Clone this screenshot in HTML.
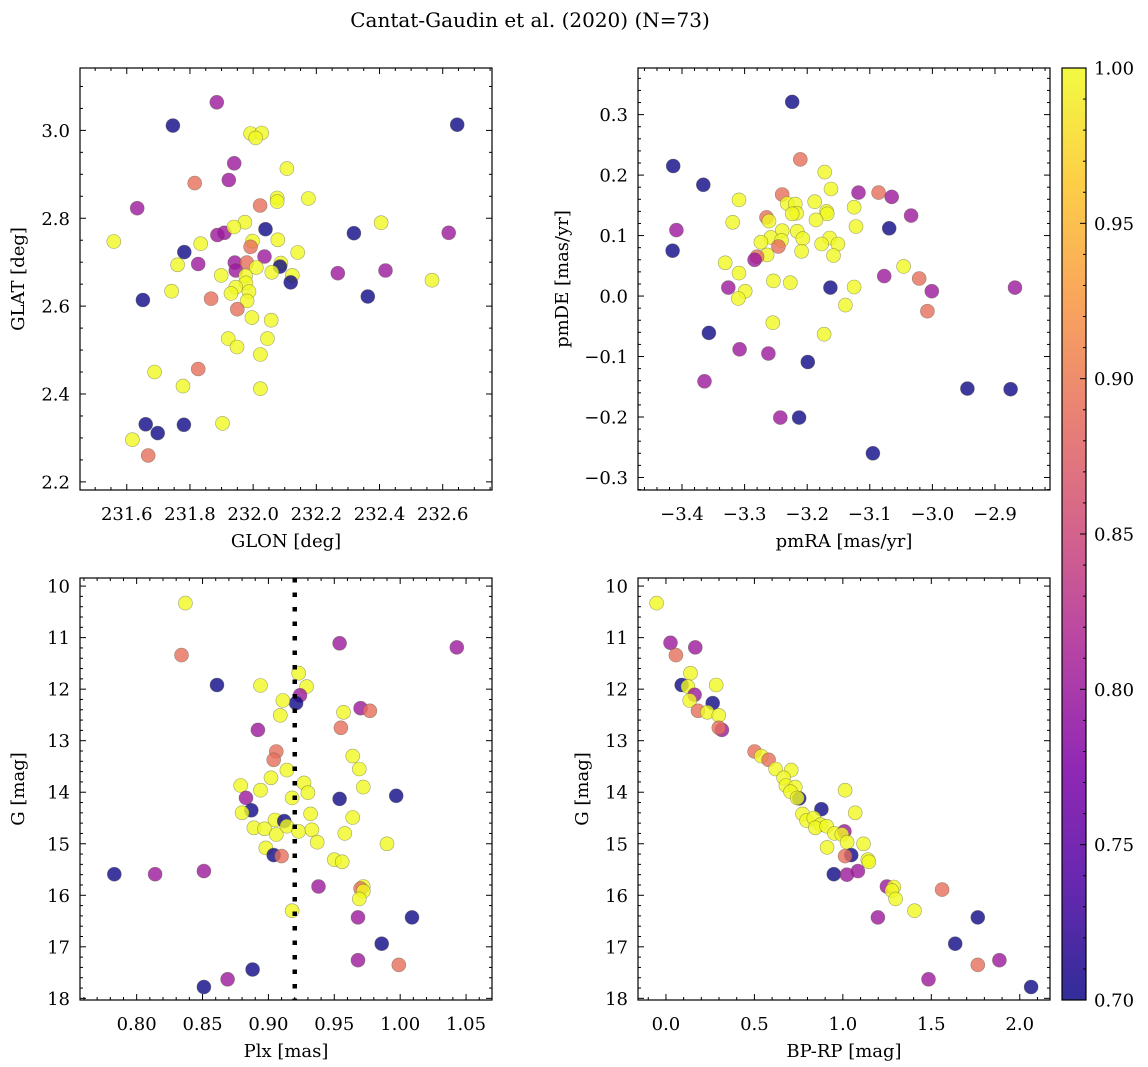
<!DOCTYPE html>
<html><head><meta charset="utf-8">
<style>
html,body{margin:0;padding:0;background:#fff;}
svg{display:block;font-family:"DejaVu Serif","Liberation Serif",serif;}
</style></head>
<body>
<svg id="fig" width="1148" height="1067" viewBox="0 0 1148 1067" xmlns="http://www.w3.org/2000/svg">
<defs>
<linearGradient id="cbgrad" x1="0" y1="1" x2="0" y2="0">
<stop offset="0" stop-color="#0d0887"/><stop offset="0.125" stop-color="#4c02a1"/><stop offset="0.25" stop-color="#7e03a8"/><stop offset="0.375" stop-color="#a92395"/><stop offset="0.5" stop-color="#cc4778"/><stop offset="0.625" stop-color="#e56b5d"/><stop offset="0.75" stop-color="#f89540"/><stop offset="0.875" stop-color="#fdc527"/><stop offset="1" stop-color="#f0f921"/>
</linearGradient>
</defs>
<text x="530" y="27" font-size="20" text-anchor="middle">Cantat-Gaudin et al. (2020) (N=73)</text>
</svg>
<script>
// Panel 1: GLON / GLAT
const p1GLON=[231.885,231.746,232.646,231.992,232.027,232.008,231.940,232.107,231.923,231.815,232.076,232.175,232.076,231.633,232.022,232.405,231.974,231.887,231.909,232.039,231.939,232.319,232.619,231.559,231.834,231.998,231.992,232.078,231.782,232.141,231.761,231.826,231.942,231.980,232.036,232.088,232.085,232.010,231.945,232.059,231.899,231.976,232.124,232.119,232.268,232.419,232.566,231.977,231.945,231.987,231.930,232.363,231.742,231.867,231.651,231.981,231.950,231.996,232.057,231.921,232.045,231.949,232.023,231.688,231.826,231.778,232.023,231.903,231.660,231.781,231.698,231.618,231.668];
const p1GLAT=[3.064,3.011,3.013,2.993,2.994,2.983,2.925,2.913,2.887,2.880,2.846,2.845,2.838,2.823,2.829,2.790,2.791,2.762,2.767,2.775,2.780,2.766,2.767,2.747,2.742,2.748,2.735,2.751,2.723,2.722,2.694,2.696,2.699,2.699,2.713,2.698,2.690,2.688,2.681,2.677,2.670,2.669,2.670,2.654,2.675,2.681,2.659,2.653,2.643,2.633,2.629,2.622,2.634,2.617,2.614,2.612,2.593,2.574,2.568,2.526,2.526,2.507,2.490,2.450,2.457,2.418,2.412,2.333,2.331,2.330,2.311,2.296,2.260];
const p1Prob=[0.80,0.70,0.70,1,1,1,0.80,1,0.80,0.89,1,1,1,0.80,0.89,1,1,0.80,0.80,0.70,1,0.70,0.80,1,1,1,0.89,1,0.70,1,1,0.80,0.80,0.89,0.80,1,0.70,1,0.80,1,1,1,1,0.70,0.80,0.80,1,1,1,1,1,0.70,1,0.89,0.70,1,0.89,1,1,1,1,1,1,1,0.89,1,1,1,0.70,0.70,0.70,1,0.89];
// Panel 2: pmRA / pmDE
const p2pmRA=[-3.224,-3.414,-3.366,-3.211,-3.172,-3.162,-3.309,-3.240,-3.118,-3.086,-3.065,-3.232,-3.219,-3.188,-3.125,-3.034,-3.217,-3.224,-3.169,-3.168,-3.265,-3.261,-3.319,-3.186,-3.122,-3.069,-3.409,-3.240,-3.216,-3.258,-3.207,-3.164,-3.241,-3.274,-3.177,-3.151,-3.246,-3.415,-3.209,-3.264,-3.158,-3.280,-3.284,-3.331,-3.309,-3.046,-3.077,-3.021,-3.254,-3.227,-3.326,-3.163,-3.125,-3.299,-3.310,-3.001,-2.868,-3.139,-3.008,-3.255,-3.173,-3.357,-3.308,-3.262,-3.199,-3.364,-2.944,-2.875,-3.243,-3.213,-3.095];
const p2pmDE=[0.321,0.215,0.184,0.226,0.205,0.177,0.159,0.168,0.171,0.171,0.164,0.153,0.152,0.156,0.147,0.133,0.137,0.136,0.140,0.136,0.130,0.124,0.122,0.126,0.115,0.112,0.109,0.108,0.107,0.097,0.095,0.096,0.092,0.089,0.086,0.086,0.082,0.075,0.074,0.068,0.067,0.065,0.060,0.055,0.038,0.049,0.033,0.029,0.025,0.022,0.014,0.014,0.015,0.008,-0.004,0.008,0.014,-0.015,-0.025,-0.044,-0.063,-0.061,-0.088,-0.095,-0.109,-0.141,-0.153,-0.154,-0.201,-0.201,-0.260];
const p2Prob=[0.70,0.70,0.70,0.89,1,1,1,0.89,0.80,0.89,0.80,1,1,1,1,0.80,1,1,1,1,0.89,1,1,1,1,0.70,0.80,1,1,1,1,1,1,1,1,1,0.89,0.70,1,1,1,0.89,0.80,1,1,1,0.80,0.89,1,1,0.80,0.70,1,1,1,0.80,0.80,1,0.89,1,1,0.70,0.80,0.80,0.70,0.80,0.70,0.70,0.80,0.70,0.70];
// Panel 3: Plx / G
const p3Plx=[0.837,0.834,0.954,1.043,0.923,0.929,0.861,0.894,0.924,0.921,0.911,0.909,0.957,0.970,0.977,0.892,0.955,0.906,0.904,0.964,0.969,0.914,0.902,0.927,0.879,0.930,0.972,0.997,0.894,0.918,0.954,0.883,0.887,0.880,0.932,0.964,0.905,0.912,0.914,0.889,0.897,0.906,0.923,0.933,0.958,0.937,0.990,0.898,0.904,0.910,0.950,0.956,0.783,0.814,0.851,0.938,0.972,0.970,0.972,0.969,0.918,0.968,1.009,0.986,0.968,0.999,0.888,0.869,0.851];
const p3G=[10.33,11.34,11.11,11.19,11.69,11.95,11.92,11.93,12.12,12.27,12.22,12.51,12.45,12.37,12.42,12.79,12.75,13.21,13.37,13.30,13.55,13.57,13.72,13.82,13.87,14.01,13.90,14.07,13.96,14.11,14.13,14.11,14.35,14.40,14.42,14.49,14.54,14.56,14.66,14.69,14.71,14.82,14.76,14.73,14.80,14.97,15.00,15.08,15.22,15.24,15.31,15.35,15.59,15.59,15.53,15.83,15.83,15.87,15.92,16.07,16.30,16.43,16.43,16.94,17.26,17.35,17.44,17.63,17.78];
const p3Prob=[1,0.89,0.80,0.80,1,1,0.70,1,0.80,0.70,1,1,1,0.80,0.89,0.80,0.89,0.89,0.89,1,1,1,1,1,1,1,1,0.70,1,1,0.70,0.80,0.70,1,1,1,1,0.70,1,1,1,1,1,1,1,1,1,1,0.70,0.89,1,1,0.70,0.80,0.80,0.80,1,0.89,1,1,1,0.80,0.70,0.70,0.80,0.89,0.70,0.80,0.70];
const plxMedian=0.92;
// Panel 4: BP-RP / G
const p4BPRP=[-0.053,0.026,0.056,0.166,0.139,0.089,0.124,0.284,0.162,0.134,0.264,0.181,0.234,0.299,0.316,0.299,0.501,0.539,0.580,0.620,0.708,0.665,0.678,0.731,0.704,0.753,0.742,1.013,0.879,1.070,0.772,0.795,0.836,0.874,0.844,0.908,0.953,1.009,0.994,1.024,1.117,0.911,1.047,1.013,1.141,1.147,0.949,1.023,1.085,1.249,1.288,1.277,1.298,1.561,1.405,1.198,1.763,1.635,1.885,1.763,1.484,2.064];
const p4G=[10.33,11.10,11.34,11.19,11.69,11.92,11.95,11.92,12.11,12.22,12.27,12.42,12.45,12.51,12.79,12.75,13.21,13.30,13.37,13.55,13.57,13.72,13.87,13.90,13.99,14.12,14.11,13.96,14.33,14.40,14.42,14.55,14.50,14.63,14.69,14.66,14.80,14.76,14.82,14.97,15.00,15.07,15.22,15.24,15.31,15.35,15.59,15.60,15.53,15.83,15.84,15.91,16.07,15.89,16.30,16.43,16.43,16.94,17.26,17.35,17.63,17.78];
const p4Prob=[1,0.80,0.89,0.80,1,0.70,1,1,0.80,1,0.70,0.89,1,1,0.80,0.89,0.89,1,0.89,1,1,1,1,1,1,0.70,1,1,0.70,1,1,1,1,1,1,1,1,0.80,1,1,1,1,0.70,0.89,1,1,0.70,0.80,0.80,0.80,1,1,1,0.89,1,0.80,0.70,0.70,0.80,0.89,0.80,0.70];
// colorbar
const cbTicks=[0.70,0.75,0.80,0.85,0.90,0.95,1.00];
const cbMin=0.70, cbMax=1.00;

const NS="http://www.w3.org/2000/svg";
const svg=document.getElementById('fig');
function mk(tag,attrs,parent){const e=document.createElementNS(NS,tag);for(const k in attrs)e.setAttribute(k,attrs[k]);(parent||svg).appendChild(e);return e;}
const stops=[[13,8,135],[76,2,161],[126,3,168],[169,35,149],[204,71,120],[229,107,93],[248,149,64],[253,197,39],[240,249,33]];
function plasma(v){let t=Math.max(0,Math.min(1,(v-cbMin)/(cbMax-cbMin)))*8;let i=Math.min(7,Math.floor(t));let f=t-i;const a=stops[i],b=stops[i+1];return `rgb(${Math.round(a[0]+(b[0]-a[0])*f)},${Math.round(a[1]+(b[1]-a[1])*f)},${Math.round(a[2]+(b[2]-a[2])*f)})`;}
function fmt(v,d){const s=Math.abs(v).toFixed(d);return (v<-1e-9?'\u2212':'')+s;}

function panel(cfg){
  const g=mk('g',{});
  
  
  const L=cfg.L,T=cfg.T,W=412,H=422;
  const sx=v=>L+(v-cfg.xmin)/(cfg.xmax-cfg.xmin)*W;
  const sy=cfg.yinv? (v=>T+(v-cfg.ymin)/(cfg.ymax-cfg.ymin)*H) : (v=>T+H-(v-cfg.ymin)/(cfg.ymax-cfg.ymin)*H);
  const pg=mk('g',{},g);
  
  
  for(let i=0;i<cfg.xs.length;i++){
    const c=mk('circle',{cx:sx(cfg.xs[i]).toFixed(1),cy:sy(cfg.ys[i]).toFixed(1),r:7,fill:plasma(cfg.pr[i]),'fill-opacity':0.8,stroke:'rgba(90,90,60,0.55)','stroke-width':0.6},pg);
    
    
  }
  if(cfg.vline!==undefined){
    const l=mk('line',{x1:sx(cfg.vline),x2:sx(cfg.vline),y1:T,y2:T+H,stroke:'#000','stroke-width':4.5,'stroke-dasharray':'4.5 10'},g);
    
    
  }
  const fr=mk('rect',{x:L,y:T,width:W,height:H,fill:'none',stroke:'#000','stroke-width':1.2},g);
  
  
  const tg=mk('g',{stroke:'#000','stroke-width':1},g);
  const eps=1e-9;
  const xMinorStart=Math.ceil(cfg.xmin/cfg.xminor-eps);
  for(let k=xMinorStart;k*cfg.xminor<=cfg.xmax+eps;k++){
    const v=k*cfg.xminor;const x=sx(v);
    const isMaj=Math.abs(v/cfg.xmajor-Math.round(v/cfg.xmajor))<1e-6;
    const len=isMaj?6:3;
    mk('line',{x1:x,x2:x,y1:T+H,y2:T+H-len},tg);
    mk('line',{x1:x,x2:x,y1:T,y2:T+len},tg);
  }
  const yMinorStart=Math.ceil(Math.min(cfg.ymin,cfg.ymax)/cfg.yminor-eps);
  const yHi=Math.max(cfg.ymin,cfg.ymax);
  for(let k=yMinorStart;k*cfg.yminor<=yHi+eps;k++){
    const v=k*cfg.yminor;const y=sy(v);
    const isMaj=Math.abs(v/cfg.ymajor-Math.round(v/cfg.ymajor))<1e-6;
    const len=isMaj?6:3;
    mk('line',{x1:L,x2:L+len,y1:y,y2:y},tg);
    mk('line',{x1:L+W,x2:L+W-len,y1:y,y2:y},tg);
  }
  cfg.xticks.forEach(v=>{
    const t=mk('text',{x:sx(v),y:T+H+30,'font-size':18,'text-anchor':'middle'},g);
    t.textContent=fmt(v,cfg.xdec);
    
    
  });
  cfg.yticks.forEach(v=>{
    const t=mk('text',{x:L-10,y:sy(v)+6.5,'font-size':18,'text-anchor':'end'},g);
    t.textContent=fmt(v,cfg.ydec);
    
    
  });
  const xt=mk('text',{x:L+W/2,y:T+H+57,'font-size':18,'text-anchor':'middle'},g);
  xt.textContent=cfg.xlabel;
  
  
  const yx=cfg.ylx, yy=T+H/2;
  const yt=mk('text',{x:yx,y:yy,'font-size':18,'text-anchor':'middle',transform:`rotate(-90 ${yx} ${yy})`},g);
  yt.textContent=cfg.ylabel;
  
  
}

panel({name:'glon-glat-panel',L:80,T:68,xmin:231.452,xmax:232.756,ymin:2.1815,ymax:3.142,xmajor:0.2,xminor:0.05,ymajor:0.2,yminor:0.05,
  xticks:[231.6,231.8,232.0,232.2,232.4,232.6],yticks:[2.2,2.4,2.6,2.8,3.0],xdec:1,ydec:1,xlabel:'GLON [deg]',ylabel:'GLAT [deg]',ylx:24,
  xs:p1GLON,ys:p1GLAT,pr:p1Prob});
panel({name:'proper-motion-panel',L:638,T:68,xmin:-3.4703,xmax:-2.8121,ymin:-0.3207,ymax:0.3771,xmajor:0.1,xminor:0.02,ymajor:0.1,yminor:0.02,
  xticks:[-3.4,-3.3,-3.2,-3.1,-3.0,-2.9],yticks:[-0.3,-0.2,-0.1,0,0.1,0.2,0.3],xdec:1,ydec:1,xlabel:'pmRA [mas/yr]',ylabel:'pmDE [mas/yr]',ylx:568,
  xs:p2pmRA,ys:p2pmDE,pr:p2Prob});
panel({name:'parallax-mag-panel',L:80,T:578,xmin:0.757,xmax:1.0697,ymin:9.843,ymax:18.032,yinv:true,xmajor:0.05,xminor:0.01,ymajor:1,yminor:0.2,
  xticks:[0.80,0.85,0.90,0.95,1.00,1.05],yticks:[10,11,12,13,14,15,16,17,18],xdec:2,ydec:0,xlabel:'Plx [mas]',ylabel:'G [mag]',ylx:24,
  xs:p3Plx,ys:p3G,pr:p3Prob,vline:plxMedian});
panel({name:'cmd-panel',L:638,T:578,xmin:-0.158,xmax:2.171,ymin:9.843,ymax:18.032,yinv:true,xmajor:0.5,xminor:0.1,ymajor:1,yminor:0.2,
  xticks:[0,0.5,1.0,1.5,2.0],yticks:[10,11,12,13,14,15,16,17,18],xdec:1,ydec:0,xlabel:'BP-RP [mag]',ylabel:'G [mag]',ylx:588,
  xs:p4BPRP,ys:p4G,pr:p4Prob});

(function(){
  const L=1062,T=68,W=24,H=932;
  const g=mk('g',{});
  
  
  const r=mk('rect',{x:L,y:T,width:W,height:H,fill:'url(#cbgrad)','fill-opacity':0.85,stroke:'#000','stroke-width':1.2},g);
  
  
  const sy=v=>T+H-(v-cbMin)/(cbMax-cbMin)*H;
  for(let k=70;k<=100;k++){
    const v=k/100;const y=sy(v);const isMaj=k%5===0;
    mk('line',{x1:L+W,x2:L+W-(isMaj?6:3),y1:y,y2:y,stroke:'#000','stroke-width':1},g);
  }
  cbTicks.forEach(v=>{
    const t=mk('text',{x:L+W+8,y:sy(v)+6.5,'font-size':18},g);
    t.textContent=v.toFixed(2);
    
    
  });
})();
</script>
</body></html>
